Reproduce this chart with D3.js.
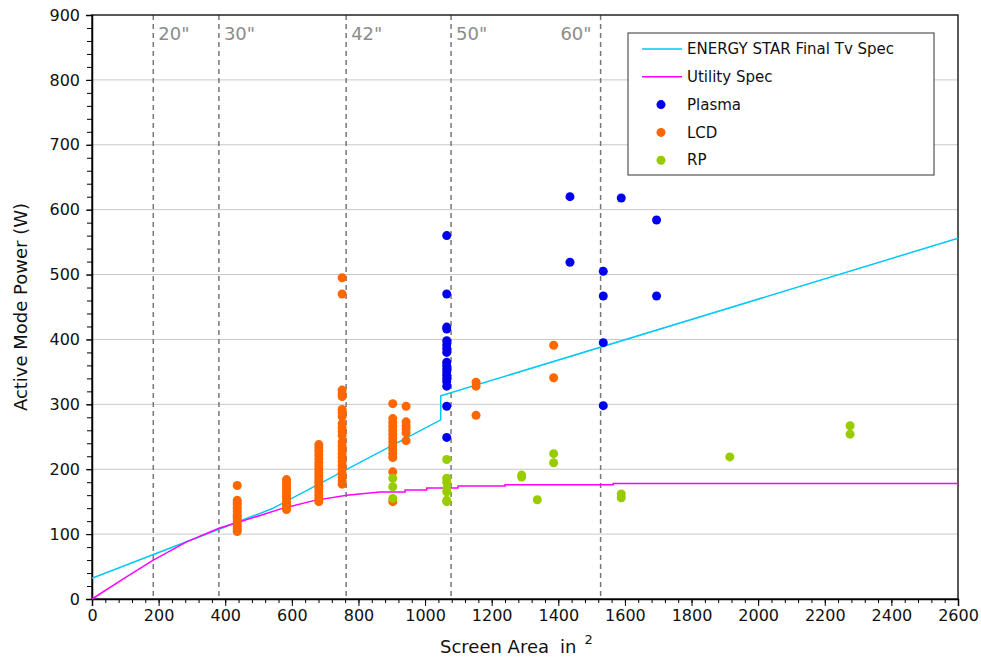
<!DOCTYPE html>
<html>
<head>
<meta charset="utf-8">
<script src="https://cdn.jsdelivr.net/npm/d3@7"></script>
<style>
  body { margin: 0; background: #fff; }
  svg text { font-family: "DejaVu Sans", Verdana, sans-serif; }
</style>
</head>
<body>
<svg id="chart" width="981" height="658"></svg>
<script>
// chart data
const xTicks = [0, 200, 400, 600, 800, 1000, 1200, 1400, 1600, 1800, 2000, 2200, 2400, 2600]
const yTicks = [0, 100, 200, 300, 400, 500, 600, 700, 800, 900]
const sizeAreas = [184, 381, 763, 1078, 1527]
const sizeLabels = ['20"', '30"', '42"', '50"', '60"']

// ENERGY STAR Final Tv Spec (area, watts)
const energyStar = [[0, 32], [540, 139], [1047, 276], [1047, 313], [2600, 556]]
// Utility Spec (area, watts)
const utilitySpec = [[0, 0], [100, 33], [184, 60], [284, 88], [381, 109], [444, 119], [500, 128],
    [574, 140], [669, 152], [765, 160], [865, 165], [940, 165], [940, 168], [1005, 168], [1005, 171],
    [1099, 171], [1099, 174], [1240, 174], [1240, 176], [1565, 176], [1565, 178], [2600, 178]]

const plasma = [
    [1065, 560], [1065, 470], [1065, 419], [1065, 416], [1065, 398], [1065, 392], [1065, 386],
    [1065, 380], [1065, 365], [1065, 360], [1065, 355], [1065, 350], [1065, 345], [1065, 340],
    [1065, 335], [1065, 328], [1065, 297], [1065, 249],
    [1435, 620], [1435, 519], [1535, 505], [1535, 467], [1535, 395], [1535, 298],
    [1589, 618], [1695, 584], [1695, 467]
]
const lcd = [
    [436, 175], [436, 152], [436, 148], [436, 145], [436, 140], [436, 135], [436, 130], [436, 127],
    [436, 124], [436, 120], [436, 116], [436, 112], [436, 108], [436, 104],
    [584, 184], [584, 180], [584, 175], [584, 170], [584, 165], [584, 160], [584, 155], [584, 150],
    [584, 146], [584, 142], [584, 138],
    [681, 238], [681, 233], [681, 228], [681, 222], [681, 216], [681, 210], [681, 205], [681, 200],
    [681, 195], [681, 190], [681, 185], [681, 180], [681, 175], [681, 170], [681, 165], [681, 160],
    [681, 155], [681, 150],
    [751, 495], [751, 470], [751, 322], [751, 316], [751, 312], [751, 292], [751, 287], [751, 281],
    [751, 270], [751, 264], [751, 258], [751, 252], [751, 242], [751, 236], [751, 230], [751, 224],
    [751, 218], [751, 212], [751, 206], [751, 200], [751, 194], [751, 188], [751, 182], [751, 177],
    [903, 301], [903, 278], [903, 272], [903, 266], [903, 260], [903, 254], [903, 248], [903, 242],
    [903, 236], [903, 230], [903, 224], [903, 218], [903, 196], [903, 150],
    [943, 297], [943, 273], [943, 267], [943, 262], [943, 256], [943, 244],
    [1153, 334], [1153, 328], [1153, 283], [1386, 391], [1386, 341]
]
const rp = [
    [903, 186], [903, 173], [903, 155],
    [1065, 215], [1065, 186], [1065, 180], [1065, 170], [1065, 165], [1065, 152], [1065, 150],
    [1290, 191], [1290, 188], [1337, 153], [1386, 224], [1386, 210],
    [1589, 162], [1589, 156], [1915, 219], [2276, 267], [2276, 254]
]

const esColor = '#00c8f8'
const utilColor = '#ff00ff'
const plasmaColor = '#0000f0'
const lcdColor = '#ff6600'
const rpColor = '#99cc00'

var margin = { top: 15, right: 23, bottom: 59, left: 92 },
    width = 981 - margin.left - margin.right,
    height = 658 - margin.top - margin.bottom;

var svg = d3.select("#chart")
var g = svg.append("g")
    .attr("transform", "translate(" + margin.left + "," + margin.top + ")");

var x = d3.scaleLinear().domain([0, 2600]).range([0, width]);
var y = d3.scaleLinear().domain([0, 900]).range([height, 0]);

// gridlines
g.append("g")
    .selectAll("line")
    .data(yTicks.slice(1, -1))
    .enter().append("line")
    .attr("x1", 0).attr("x2", width)
    .attr("y1", d => y(d)).attr("y2", d => y(d))
    .attr("stroke", "#c8c8c8").attr("stroke-width", 1);

// screen size markers
g.append("g")
    .selectAll("line")
    .data(sizeAreas)
    .enter().append("line")
    .attr("x1", d => x(d)).attr("x2", d => x(d))
    .attr("y1", 0).attr("y2", height)
    .attr("stroke", "#777").attr("stroke-width", 1.5)
    .attr("stroke-dasharray", "5,4");
// last label sits left of its line (legend is on the right)
g.append("g")
    .selectAll("text")
    .data(sizeAreas)
    .enter().append("text")
    .attr("x", (d, i) => i === sizeAreas.length - 1 ? x(d) - 9 : x(d) + 5)
    .attr("text-anchor", (d, i) => i === sizeAreas.length - 1 ? "end" : "start")
    .attr("y", 25)
    .attr("fill", "#8c8c8c")
    .attr("font-size", 18)
    .text((d, i) => sizeLabels[i]);

// frame
g.append("rect")
    .attr("width", width).attr("height", height)
    .attr("fill", "none").attr("stroke", "#222").attr("stroke-width", 1.5);

// axes
var xAxis = g.append("g")
    .attr("transform", "translate(0," + height + ")")
    .call(d3.axisBottom(x).tickValues(d3.range(0, 2601, 40)).tickSize(4).tickFormat(""));
xAxis.select(".domain").remove();
g.append("g")
    .attr("transform", "translate(0," + height + ")")
    .call(d3.axisBottom(x).tickValues(xTicks).tickSize(7).tickPadding(4).tickFormat(d3.format("d")))
    .call(a => a.select(".domain").attr("stroke-width", 1.5))
    .selectAll("text").attr("font-size", 16).attr("fill", "#111");

var yAxis = g.append("g")
    .call(d3.axisLeft(y).tickValues(d3.range(0, 901, 20)).tickSize(5).tickFormat(""));
yAxis.select(".domain").remove();
g.append("g")
    .call(d3.axisLeft(y).tickValues(yTicks).tickSize(6).tickPadding(6))
    .call(a => a.select(".domain").attr("stroke-width", 1.5))
    .selectAll("text").attr("font-size", 16).attr("fill", "#111");

// lines
var line = d3.line().x(d => x(d[0])).y(d => y(d[1]));
g.append("path").datum(energyStar)
    .attr("d", line).attr("fill", "none").attr("stroke", esColor).attr("stroke-width", 1.5);
g.append("path").datum(utilitySpec)
    .attr("d", line).attr("fill", "none").attr("stroke", utilColor).attr("stroke-width", 1.5);

// points
function dots(data, color) {
    g.append("g")
        .selectAll("circle")
        .data(data)
        .enter().append("circle")
        .attr("cx", d => x(d[0]))
        .attr("cy", d => y(d[1]))
        .attr("r", 4.5)
        .attr("fill", color);
}
dots(lcd, lcdColor)
dots(rp, rpColor)
dots(plasma, plasmaColor)

// axis titles
svg.append("text")
    .attr("transform", "translate(27," + (margin.top + height / 2) + ") rotate(-90)")
    .attr("text-anchor", "middle")
    .attr("font-size", 18).attr("fill", "#111")
    .text("Active Mode Power (W)");
var xt = svg.append("text")
    .attr("x", 440).attr("y", 653)
    .attr("font-size", 18).attr("fill", "#111");
xt.append("tspan").text("Screen Area");
xt.append("tspan").attr("dx", 11).text("in");
xt.append("tspan").attr("dx", 8).attr("dy", -9).attr("font-size", 13).text("2");

// legend
var legendItems = [
    { name: "ENERGY STAR Final Tv Spec", color: esColor, type: "line" },
    { name: "Utility Spec", color: utilColor, type: "line" },
    { name: "Plasma", color: plasmaColor, type: "dot" },
    { name: "LCD", color: lcdColor, type: "dot" },
    { name: "RP", color: rpColor, type: "dot" }
]
var legend = svg.append("g").attr("transform", "translate(628,33)");
legend.append("rect")
    .attr("width", 306).attr("height", 142)
    .attr("fill", "#fff").attr("stroke", "#333").attr("stroke-width", 1);
var li = legend.selectAll(".li")
    .data(legendItems)
    .enter().append("g")
    .attr("transform", (d, i) => "translate(0," + (16 + i * 27.8) + ")");
li.filter(d => d.type === "line").append("line")
    .attr("x1", 14).attr("x2", 54)
    .attr("stroke", d => d.color).attr("stroke-width", 1.5);
li.filter(d => d.type === "dot").append("circle")
    .attr("cx", 33).attr("r", 4.5).attr("fill", d => d.color);
li.append("text")
    .attr("x", 59)
    .attr("dy", "0.35em")
    .attr("font-size", 15).attr("fill", "#111")
    .text(d => d.name);
</script>
</body>
</html>
